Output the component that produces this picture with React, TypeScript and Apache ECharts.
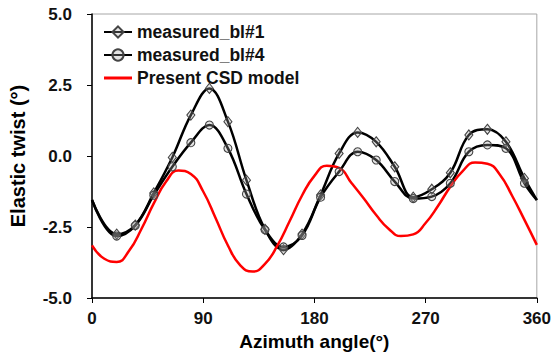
import React, { useEffect, useRef } from "react";
import * as echarts from "echarts";

const xTicks = [0, 90, 180, 270, 360];
const yTicks = [-5, -2.5, 0, 2.5, 5];

const measuredAngles = [0, 20, 35, 50, 65, 80, 95, 110, 125, 140, 155, 170, 185, 200, 215, 230, 245, 260, 275, 290, 305, 320, 335, 350, 360];
const bl1Values = [-1.55, -2.75, -2.43, -1.3, -0.05, 1.44, 2.38, 1.21, -0.85, -2.58, -3.3, -2.75, -1.37, 0.09, 0.83, 0.5, -0.38, -1.45, -1.17, -0.59, 0.74, 0.94, 0.5, -0.79, -1.55];
const bl4Values = [-1.55, -2.82, -2.45, -1.38, -0.38, 0.47, 1.09, 0.27, -1.34, -2.6, -3.2, -2.8, -1.45, -0.55, 0.15, -0.14, -0.9, -1.5, -1.43, -0.96, 0.15, 0.39, 0.27, -0.96, -1.55];

const modelAngles = [0, 10, 20, 30, 40, 50, 60, 70, 80, 90, 100, 110, 120, 130, 140, 150, 160, 170, 180, 190, 200, 210, 220, 230, 240, 250, 260, 270, 280, 290, 300, 310, 320, 330, 340, 350, 360];
const modelValues = [-3.15, -3.62, -3.73, -3.34, -2.57, -1.67, -0.9, -0.51, -0.63, -1.25, -2.18, -3.15, -3.85, -4.07, -3.8, -3.16, -2.29, -1.39, -0.7, -0.34, -0.42, -0.95, -1.5, -2.08, -2.56, -2.82, -2.76, -2.36, -1.76, -1.08, -0.53, -0.23, -0.27, -0.65, -1.4, -2.25, -3.13];

const seriesNames = ["measured_bl#1", "measured_bl#4", "Present CSD model"];

const FONT = "'Liberation Sans', Arial, sans-serif";
const LINE_ICON = "path://M0,0 L0.01,0 L0,0.01 Z M0,5.6 L28,5.6 L28,8.4 L0,8.4 Z M0,14 L0.01,14 L0,13.99 Z";

function measuredData(values: number[]) {
  return measuredAngles.map((a, i) => {
    const edge = i === 0 || i === measuredAngles.length - 1;
    return edge ? { value: [a, values[i]], symbol: "none" } : { value: [a, values[i]] };
  });
}

export default function App() {
  const ref = useRef<HTMLDivElement>(null);
  useEffect(() => {
    if (!ref.current) return;
    const chart = echarts.init(ref.current, undefined, { renderer: "svg" });
    const markerStyle = {
      color: "rgba(170,170,170,0.3)",
      borderColor: "#444",
      borderWidth: 1.1,
    };
    chart.setOption({
      animation: false,
      backgroundColor: "#fff",
      textStyle: { fontFamily: FONT },
      grid: {
        left: 89,
        right: 15,
        top: 14,
        bottom: 64,
        show: true,
        borderColor: "#a6a6a6",
        borderWidth: 1,
        backgroundColor: "transparent",
      },
      legend: {
        orient: "vertical",
        left: 98,
        top: 18,
        itemWidth: 28,
        itemHeight: 14,
        itemGap: 5,
        data: [
          { name: seriesNames[0] },
          { name: seriesNames[1] },
          { name: seriesNames[2], icon: LINE_ICON },
        ],
        textStyle: { fontFamily: FONT, fontSize: 17.5, fontWeight: "bold", color: "#111" },
      },
      xAxis: {
        type: "value",
        min: xTicks[0],
        max: xTicks[xTicks.length - 1],
        interval: 90,
        name: "Azimuth angle(°)",
        nameLocation: "middle",
        nameGap: 31,
        nameTextStyle: { fontFamily: FONT, fontSize: 19, fontWeight: "bold", color: "#000" },
        axisLine: { onZero: false, lineStyle: { color: "#000", width: 1.5 } },
        axisTick: { show: true, length: 5, lineStyle: { color: "#000", width: 1 } },
        axisLabel: { fontFamily: FONT, fontSize: 17, fontWeight: "bold", color: "#111", margin: 12 },
        splitLine: { show: false },
      },
      yAxis: {
        type: "value",
        min: yTicks[0],
        max: yTicks[yTicks.length - 1],
        interval: 2.5,
        name: "Elastic twist (°)",
        nameLocation: "middle",
        nameGap: 64,
        nameTextStyle: { fontFamily: FONT, fontSize: 20, fontWeight: "bold", color: "#000" },
        axisLine: { onZero: false, lineStyle: { color: "#000", width: 1.5 } },
        axisTick: { show: true, length: 5, lineStyle: { color: "#000", width: 1 } },
        axisLabel: {
          fontFamily: FONT,
          fontSize: 17,
          fontWeight: "bold",
          color: "#111",
          margin: 20,
          formatter: (v: number) => v.toFixed(1),
        },
        splitLine: { show: false },
      },
      series: [
        {
          name: seriesNames[0],
          type: "line",
          smooth: 0.4,
          showSymbol: true,
          symbol: "diamond",
          symbolSize: [8, 10],
          data: measuredData(bl1Values),
          lineStyle: { color: "#000", width: 2.5, type: "solid" },
          itemStyle: markerStyle,
        },
        {
          name: seriesNames[1],
          type: "line",
          smooth: 0.4,
          showSymbol: true,
          symbol: "circle",
          symbolSize: 8,
          data: measuredData(bl4Values),
          lineStyle: { color: "#000", width: 2.5, type: "solid" },
          itemStyle: markerStyle,
        },
        {
          name: seriesNames[2],
          type: "line",
          smooth: 0.5,
          symbol: "none",
          data: modelAngles.map((a, i) => [a, modelValues[i]]),
          lineStyle: { color: "#ff0000", width: 2.5, type: "solid" },
          itemStyle: { color: "#ff0000" },
        },
      ],
    });
    return () => chart.dispose();
  }, []);
  return <div ref={ref} style={{ width: 554, height: 362, position: "fixed", left: 0, top: 0 }} />;
}
